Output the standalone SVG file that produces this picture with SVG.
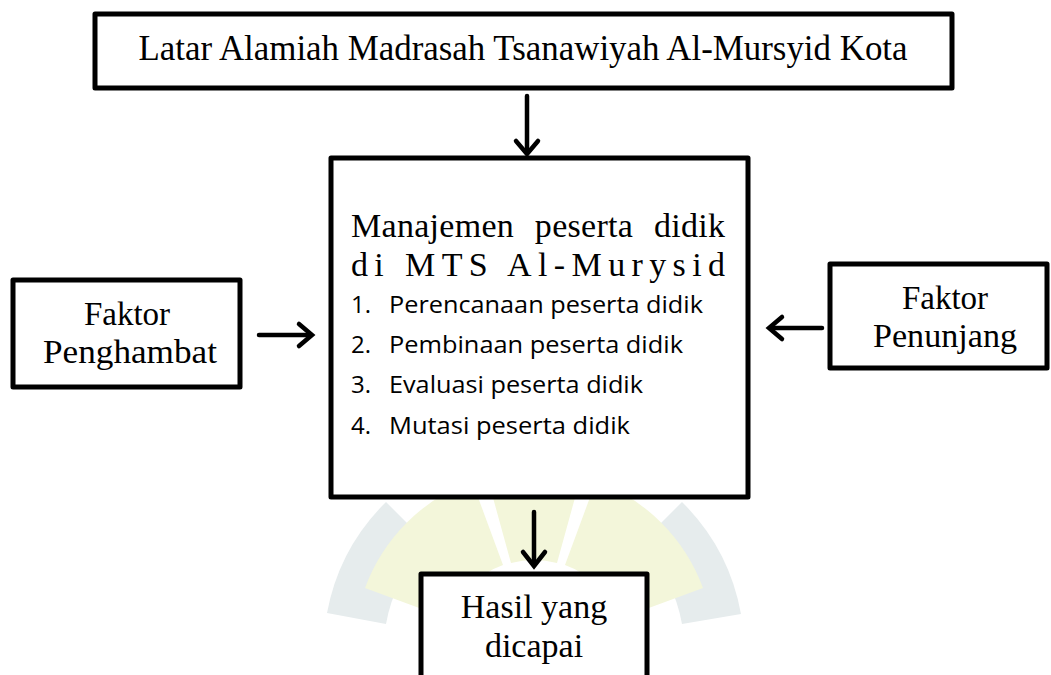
<svg xmlns="http://www.w3.org/2000/svg" width="1051" height="675" viewBox="0 0 1051 675">
<defs>
<style>
.box{fill:#fff;stroke:#000;stroke-width:5;stroke-linejoin:round}
.serif{font-family:"Liberation Serif","Times New Roman",serif;fill:#000}
.sans{font-family:"Open Sans","Liberation Sans",sans-serif;fill:#000}
.conn{stroke:#000;stroke-width:4.5;fill:none;stroke-linecap:round}
.head{stroke:#000;stroke-width:4.5;fill:none;stroke-linecap:round;stroke-linejoin:miter}
.wm1{fill:#f3f6da}
.wm2{fill:#e6eced}
</style>
</defs>
<rect width="1051" height="675" fill="#fff"/>
<g id="watermark">
<path class="wm2" d="M327,613 A210,210 0 0 1 386,502 L428,544 A150,150 0 0 0 386,624 Z"/>
<path class="wm2" d="M682,502 A210,210 0 0 1 741,614 L682,624 A150,150 0 0 0 640,544 Z"/>
<path class="wm1" d="M365,588 A180,180 0 0 1 472,481 L503,565 A90,90 0 0 0 449,619 Z"/>
<path class="wm1" d="M487,476 A180,180 0 0 1 581,476 L557,563 A90,90 0 0 0 511,563 Z"/>
<path class="wm1" d="M596,481 A180,180 0 0 1 703,588 L619,619 A90,90 0 0 0 565,565 Z"/>
</g>
<g id="connectors">
<line class="conn" x1="527" y1="96" x2="527" y2="153"/>
<polyline class="head" points="516,141 527,154 538,141"/>
<line class="conn" x1="259" y1="335" x2="311" y2="335"/>
<polyline class="head" points="299,324 312,335 299,346"/>
<line class="conn" x1="822" y1="328" x2="770" y2="328"/>
<polyline class="head" points="782,317 769,328 782,339"/>
<line class="conn" x1="534" y1="512" x2="534" y2="564"/>
<polyline class="head" points="523,552 534,566 545,552"/>
</g>
<g id="node-latar">
<rect class="box" x="95" y="14" width="857" height="74"/>
<text class="serif" x="523" y="60" font-size="35" text-anchor="middle" textLength="769" lengthAdjust="spacingAndGlyphs">Latar Alamiah Madrasah Tsanawiyah Al-Mursyid Kota</text>
</g>
<g id="node-manajemen">
<rect class="box" x="331" y="158" width="417" height="339"/>
<text class="serif" x="351" y="237" font-size="34" textLength="374" lengthAdjust="spacing" word-spacing="12">Manajemen peserta didik</text>
<text class="serif" x="351" y="276" font-size="34" textLength="374" lengthAdjust="spacing">di MTS Al-Murysid</text>
<text class="sans" font-size="24">
<tspan x="351" y="313">1.</tspan><tspan x="389" y="313" textLength="314" lengthAdjust="spacingAndGlyphs">Perencanaan peserta didik</tspan>
<tspan x="351" y="353">2.</tspan><tspan x="389" y="353" textLength="294" lengthAdjust="spacingAndGlyphs">Pembinaan peserta didik</tspan>
<tspan x="351" y="393">3.</tspan><tspan x="389" y="393" textLength="254" lengthAdjust="spacingAndGlyphs">Evaluasi peserta didik</tspan>
<tspan x="351" y="434">4.</tspan><tspan x="389" y="434" textLength="241" lengthAdjust="spacingAndGlyphs">Mutasi peserta didik</tspan>
</text>
</g>
<g id="node-penghambat">
<rect class="box" x="13" y="280" width="227" height="107"/>
<text class="serif" font-size="33" text-anchor="middle"><tspan x="127" y="325">Faktor</tspan><tspan x="130" y="363" textLength="174" lengthAdjust="spacingAndGlyphs">Penghambat</tspan></text>
</g>
<g id="node-penunjang">
<rect class="box" x="830" y="264" width="217" height="104"/>
<text class="serif" font-size="33" text-anchor="middle"><tspan x="945" y="309">Faktor</tspan><tspan x="945" y="347" textLength="144" lengthAdjust="spacingAndGlyphs">Penunjang</tspan></text>
</g>
<g id="node-hasil">
<rect class="box" x="421" y="574" width="226" height="120"/>
<text class="serif" font-size="34" text-anchor="middle"><tspan x="534" y="618">Hasil yang</tspan><tspan x="534" y="657">dicapai</tspan></text>
</g>
</svg>
